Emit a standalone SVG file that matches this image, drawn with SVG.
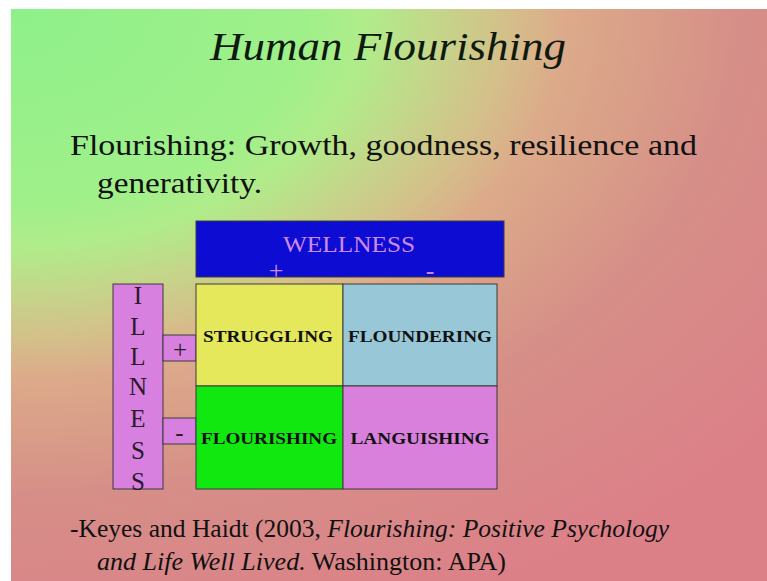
<svg xmlns="http://www.w3.org/2000/svg" width="767" height="581" viewBox="0 0 767 581">
  <defs>
    <!-- elliptical wash spreading from the top-left corner -->
    <radialGradient id="bg" gradientUnits="userSpaceOnUse" cx="11" cy="9" r="660" fx="11" fy="9" gradientTransform="translate(11,9) scale(1.5,1) translate(-11,-9)">
      <stop offset="0" stop-color="#8ef08a"/>
      <stop offset="0.30" stop-color="#a0f08a"/>
      <stop offset="0.36" stop-color="#b0ec8a"/>
      <stop offset="0.43" stop-color="#c4d68a"/>
      <stop offset="0.50" stop-color="#d4c08a"/>
      <stop offset="0.56" stop-color="#dcaa8a"/>
      <stop offset="0.64" stop-color="#d99e88"/>
      <stop offset="0.74" stop-color="#d68e88"/>
      <stop offset="1" stop-color="#dc8088"/>
    </radialGradient>
    <style>
      .serif { font-family: "Liberation Serif", "Times New Roman", serif; }
      .cell { stroke: #3a3a3a; stroke-width: 1; }
      .cellText { font-family: "Liberation Serif", serif; font-weight: bold; font-size: 16px; fill: #101010; text-anchor: middle; }
      .ill { font-family: "Liberation Serif", serif; font-size: 25px; fill: #2a1a2a; text-anchor: middle; }
    </style>
  </defs>

  <!-- slide background -->
  <rect x="0" y="0" width="767" height="581" fill="#ffffff"/>
  <rect x="11" y="9" width="756" height="572" fill="url(#bg)"/>

  <!-- title -->
  <text x="388" y="60" class="serif" font-style="italic" font-size="40" fill="#0e1a0e" text-anchor="middle" textLength="356" lengthAdjust="spacingAndGlyphs">Human Flourishing</text>

  <!-- definition -->
  <text x="70" y="155" class="serif" font-size="30" fill="#111" textLength="627" lengthAdjust="spacingAndGlyphs">Flourishing: Growth, goodness, resilience and</text>
  <text x="97" y="193" class="serif" font-size="30" fill="#111" textLength="165" lengthAdjust="spacingAndGlyphs">generativity.</text>

  <!-- wellness header -->
  <g id="wellness">
    <rect x="196" y="221" width="308" height="56" fill="#0c0cd2" class="cell"/>
    <text x="349" y="252" class="serif" font-size="24" fill="#d088e8" text-anchor="middle" textLength="132" lengthAdjust="spacingAndGlyphs">WELLNESS</text>
    <text x="276" y="279" class="serif" font-size="26" fill="#d088e8" text-anchor="middle">+</text>
    <text x="430" y="279" class="serif" font-size="26" fill="#d088e8" text-anchor="middle">-</text>
  </g>

  <!-- illness column -->
  <g id="illness">
    <rect x="113" y="284" width="50" height="205" fill="#d880e0" class="cell"/>
    <text x="138" y="304" class="ill">I</text>
    <text x="138" y="335" class="ill">L</text>
    <text x="138" y="365" class="ill">L</text>
    <text x="138" y="395" class="ill">N</text>
    <text x="138" y="427" class="ill">E</text>
    <text x="138" y="459" class="ill">S</text>
    <text x="138" y="490" class="ill">S</text>
  </g>

  <g id="illness-plus">
    <rect x="163" y="335" width="33" height="26" fill="#d880e0" class="cell"/>
    <text x="180" y="358" class="serif" font-size="25" fill="#222" text-anchor="middle">+</text>
  </g>
  <g id="illness-minus">
    <rect x="163" y="418" width="33" height="26" fill="#d880e0" class="cell"/>
    <text x="179.5" y="441" class="serif" font-size="25" fill="#222" text-anchor="middle">-</text>
  </g>

  <!-- quadrants -->
  <g id="struggling">
    <rect x="196" y="284" width="147" height="102" fill="#e6e85c" class="cell"/>
    <text x="268" y="342" class="cellText" textLength="130" lengthAdjust="spacingAndGlyphs">STRUGGLING</text>
  </g>
  <g id="floundering">
    <rect x="343" y="284" width="154" height="102" fill="#98c8d8" class="cell"/>
    <text x="420" y="342" class="cellText" textLength="144" lengthAdjust="spacingAndGlyphs">FLOUNDERING</text>
  </g>
  <g id="flourishing">
    <rect x="196" y="386" width="147" height="103" fill="#10e810" class="cell"/>
    <text x="269" y="444" class="cellText" textLength="136" lengthAdjust="spacingAndGlyphs">FLOURISHING</text>
  </g>
  <g id="languishing">
    <rect x="343" y="386" width="154" height="103" fill="#d880dc" class="cell"/>
    <text x="420" y="444" class="cellText" textLength="139" lengthAdjust="spacingAndGlyphs">LANGUISHING</text>
  </g>

  <!-- citation -->
  <text x="70" y="537" class="serif" font-size="25" fill="#111" textLength="599" lengthAdjust="spacingAndGlyphs">-Keyes and Haidt (2003, <tspan font-style="italic">Flourishing: Positive Psychology</tspan></text>
  <text x="97" y="570" class="serif" font-size="25" fill="#111" textLength="409" lengthAdjust="spacingAndGlyphs"><tspan font-style="italic">and Life Well Lived.</tspan> Washington: APA)</text>
</svg>
